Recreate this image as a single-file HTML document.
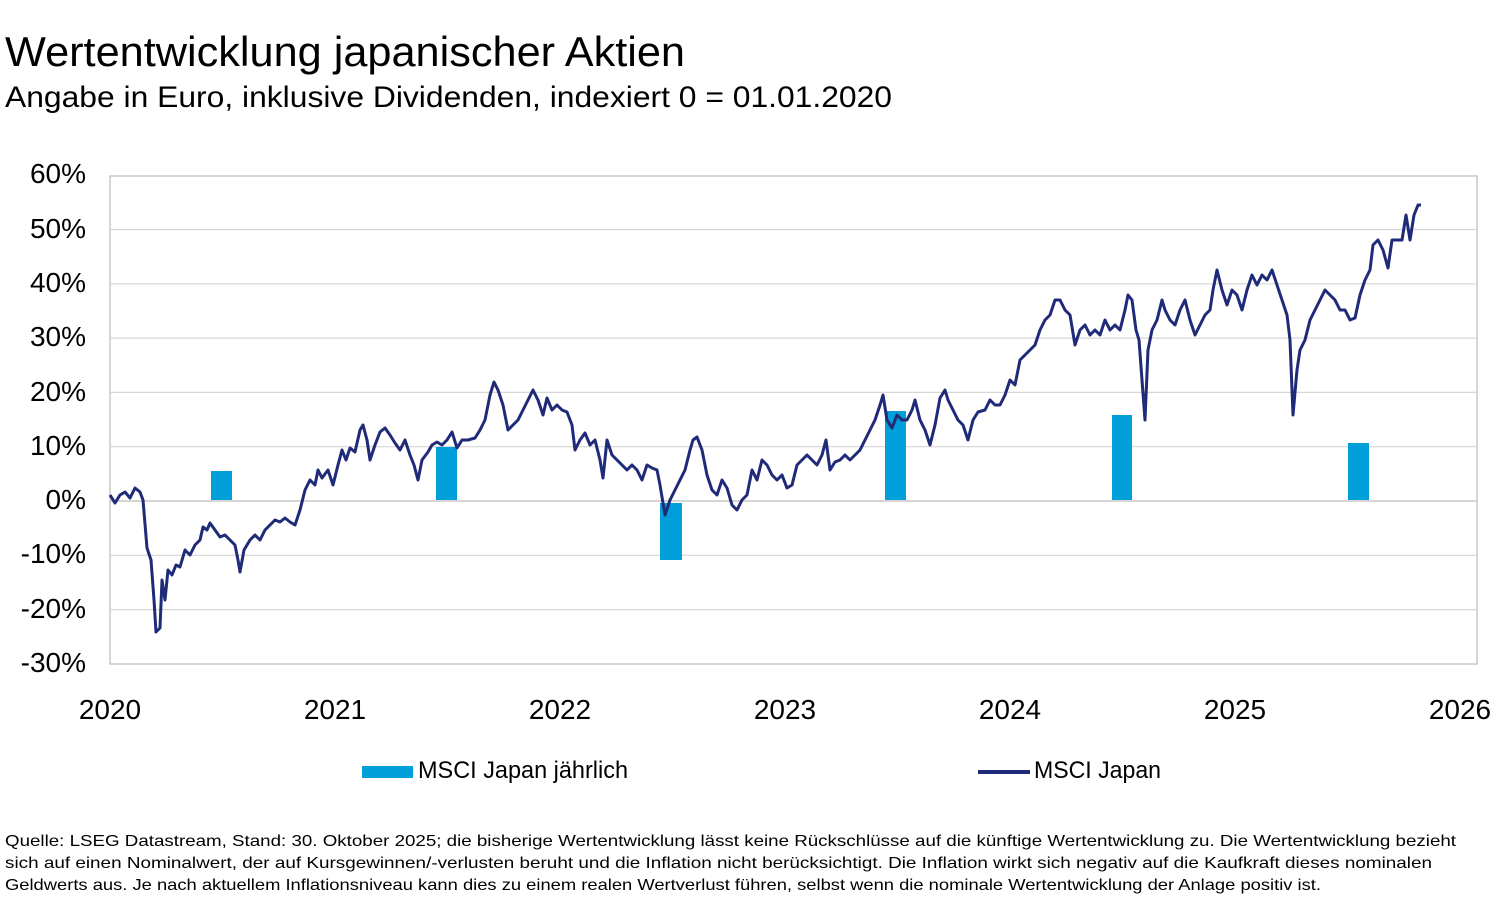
<!DOCTYPE html>
<html><head><meta charset="utf-8"><style>html,body{margin:0;padding:0;background:#fff}svg{display:block}</style></head>
<body>
<svg width="1500" height="898" xmlns="http://www.w3.org/2000/svg" font-family="Liberation Sans, sans-serif">
<text x="5" y="66" font-size="42" fill="#000" textLength="680" lengthAdjust="spacingAndGlyphs">Wertentwicklung japanischer Aktien</text>
<text x="5" y="107" font-size="30" fill="#000" textLength="887" lengthAdjust="spacingAndGlyphs">Angabe in Euro, inklusive Dividenden, indexiert 0 = 01.01.2020</text>
<rect x="110" y="176" width="1367" height="488" fill="none" stroke="#c8c8c8" stroke-width="1.5"/>
<g stroke="#d6d6d6" stroke-width="1.2">
<line x1="110" x2="1477" y1="229.5" y2="229.5"/><line x1="110" x2="1477" y1="283.8" y2="283.8"/>
<line x1="110" x2="1477" y1="338.1" y2="338.1"/><line x1="110" x2="1477" y1="392.4" y2="392.4"/>
<line x1="110" x2="1477" y1="446.7" y2="446.7"/><line x1="110" x2="1477" y1="555.3" y2="555.3"/>
<line x1="110" x2="1477" y1="609.6" y2="609.6"/>
</g>
<line x1="110" x2="1477" y1="501" y2="501" stroke="#c8c8c8" stroke-width="1.5"/>
<g font-size="28" fill="#000" text-anchor="end">
<text x="86" y="183">60%</text><text x="86" y="238">50%</text><text x="86" y="292">40%</text>
<text x="86" y="346">30%</text><text x="86" y="401">20%</text><text x="86" y="455">10%</text>
<text x="86" y="509">0%</text><text x="86" y="563">-10%</text><text x="86" y="618">-20%</text><text x="86" y="672">-30%</text>
</g>
<g font-size="28" fill="#000" text-anchor="middle">
<text x="110" y="719">2020</text><text x="335" y="719">2021</text><text x="560" y="719">2022</text>
<text x="785" y="719">2023</text><text x="1010" y="719">2024</text><text x="1235" y="719">2025</text><text x="1460" y="719">2026</text>
</g>
<g fill="#009fda">
<rect x="211" y="471" width="21" height="29"/>
<rect x="436" y="447" width="21" height="53"/>
<rect x="660" y="503" width="22" height="57"/>
<rect x="885" y="411" width="21" height="89"/>
<rect x="1112" y="415" width="20" height="85"/>
<rect x="1348" y="443" width="21" height="57"/>
</g>
<polyline fill="none" stroke="#1f2a78" stroke-width="3" stroke-linejoin="round" points="110,495 115,503 120,495 125,492 130,498 135,488 140,492 143,500 147,548 151,560 154,600 156,632 160,628 162,580 165,600 168,570 172,575 176,565 180,567 185,550 190,555 195,545 200,540 203,527 207,530 210,523 215,530 220,537 225,535 230,540 235,545 238,560 240,572 244,550 250,540 255,535 260,540 265,530 270,525 275,520 280,522 285,518 290,522 295,525 300,510 305,490 310,480 315,485 318,470 322,478 328,470 333,485 338,465 342,450 346,460 350,448 355,452 360,430 363,425 367,440 370,460 375,445 380,432 385,428 390,435 395,443 400,450 405,440 410,455 414,465 418,480 422,460 428,452 432,445 437,442 442,445 447,440 452,432 457,448 462,440 468,440 475,438 480,430 485,420 490,395 494,382 498,390 503,405 508,430 513,425 518,420 523,410 528,400 533,390 538,400 543,415 547,398 552,410 557,405 562,410 567,412 572,425 575,450 580,440 585,433 590,445 595,440 600,460 603,478 607,440 612,455 617,460 622,465 627,470 632,465 637,470 642,480 647,465 652,468 657,470 660,485 665,515 670,500 675,490 680,480 685,470 690,450 693,440 697,437 702,450 707,475 712,490 717,495 722,480 727,488 732,505 737,510 742,500 747,495 752,470 757,480 762,460 767,465 772,475 777,480 782,475 787,488 792,485 797,465 802,460 807,455 812,460 817,465 822,455 826,440 830,470 835,462 840,460 845,455 850,460 855,455 860,450 865,440 870,430 875,420 880,405 883,395 887,420 892,428 897,415 902,420 907,420 912,410 915,400 920,420 925,430 930,445 935,425 940,398 945,390 948,400 953,410 958,420 963,425 968,440 973,420 978,412 985,410 990,400 995,405 1000,405 1005,395 1010,380 1015,385 1020,360 1025,355 1030,350 1035,345 1040,330 1045,320 1050,315 1055,300 1060,300 1065,310 1070,315 1075,345 1080,330 1085,325 1090,335 1095,330 1100,335 1105,320 1110,330 1115,325 1120,330 1125,310 1128,295 1132,300 1136,330 1139,340 1142,380 1145,420 1148,350 1152,330 1157,320 1162,300 1165,310 1170,320 1175,325 1180,310 1185,300 1190,320 1195,335 1200,325 1205,315 1210,310 1213,290 1217,270 1222,290 1227,305 1232,290 1237,295 1242,310 1247,290 1252,275 1257,285 1262,275 1267,280 1272,270 1277,285 1282,300 1287,315 1290,340 1293,415 1297,370 1300,350 1305,340 1310,320 1315,310 1320,300 1325,290 1330,295 1335,300 1340,310 1345,310 1350,320 1355,318 1360,295 1365,280 1370,270 1373,245 1378,240 1383,250 1388,268 1392,240 1397,240 1402,240 1406,215 1410,240 1414,215 1418,205 1421,205"/>
<rect x="362" y="766" width="51" height="12" fill="#009fda"/>
<text x="418" y="778" font-size="24" textLength="210" lengthAdjust="spacingAndGlyphs">MSCI Japan jährlich</text>
<line x1="978" x2="1030" y1="772" y2="772" stroke="#1f2a78" stroke-width="4"/>
<text x="1034" y="778" font-size="24" textLength="127" lengthAdjust="spacingAndGlyphs">MSCI Japan</text>
<g font-size="16" fill="#000">
<text x="5" y="846" textLength="1451" lengthAdjust="spacingAndGlyphs">Quelle: LSEG Datastream, Stand: 30. Oktober 2025; die bisherige Wertentwicklung lässt keine Rückschlüsse auf die künftige Wertentwicklung zu. Die Wertentwicklung bezieht</text>
<text x="5" y="868" textLength="1427" lengthAdjust="spacingAndGlyphs">sich auf einen Nominalwert, der auf Kursgewinnen/-verlusten beruht und die Inflation nicht berücksichtigt. Die Inflation wirkt sich negativ auf die Kaufkraft dieses nominalen</text>
<text x="5" y="890" textLength="1316" lengthAdjust="spacingAndGlyphs">Geldwerts aus. Je nach aktuellem Inflationsniveau kann dies zu einem realen Wertverlust führen, selbst wenn die nominale Wertentwicklung der Anlage positiv ist.</text>
</g>
</svg>
</body></html>
